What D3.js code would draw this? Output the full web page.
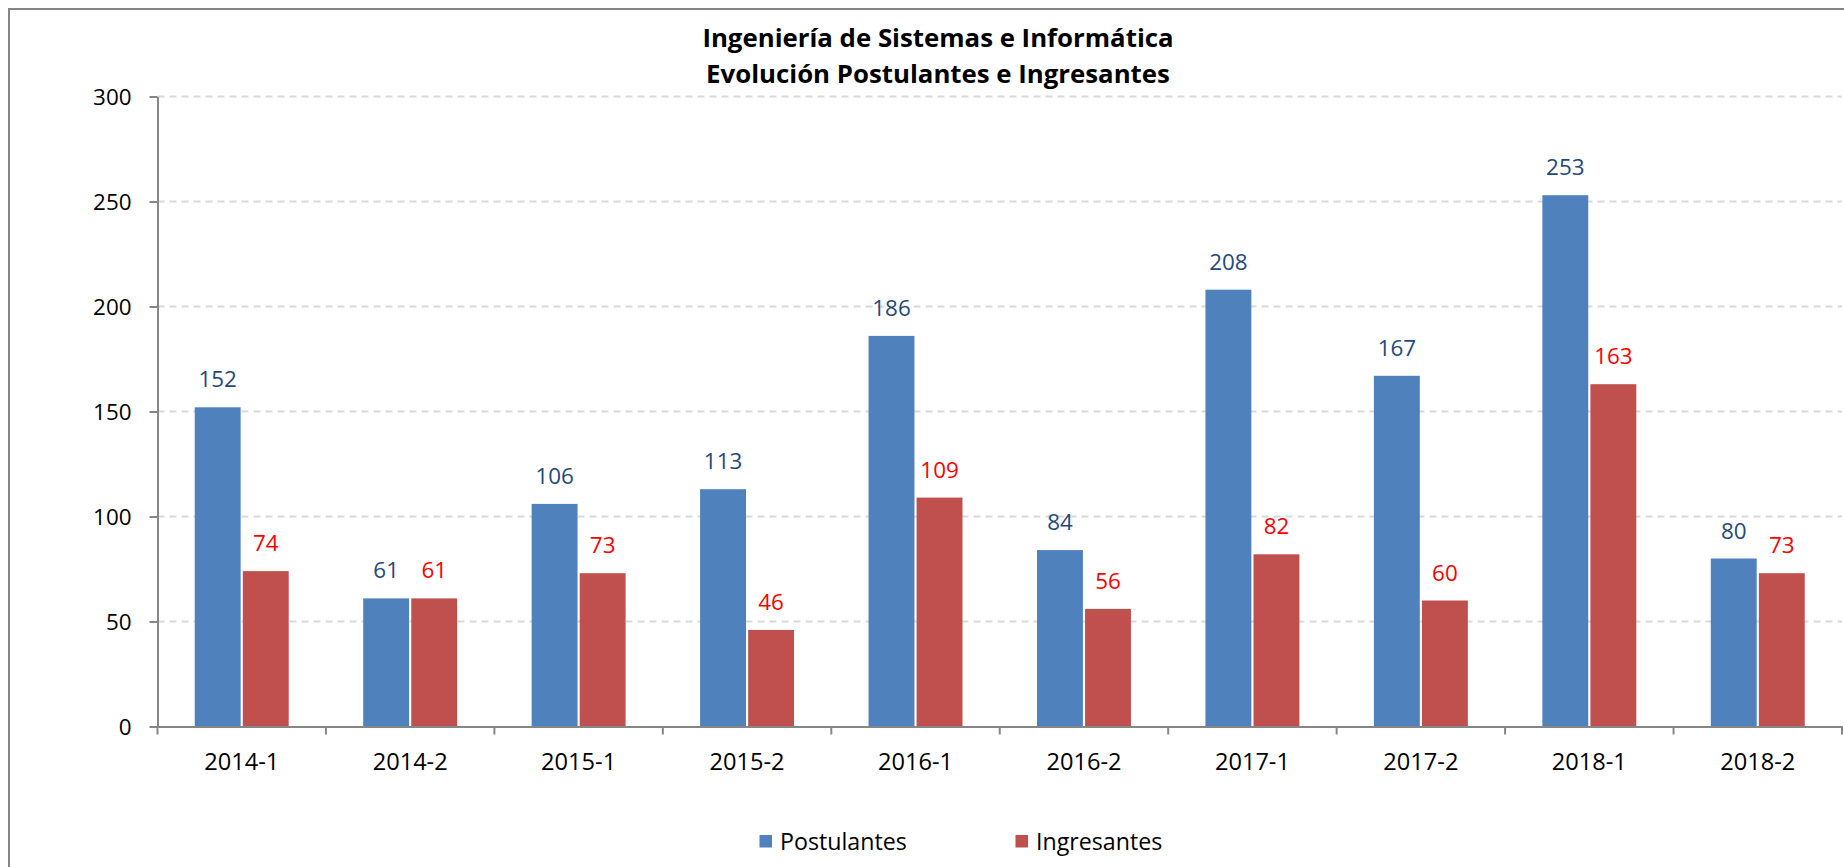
<!DOCTYPE html>
<html>
<head>
<meta charset="utf-8">
<script src="https://cdn.jsdelivr.net/npm/d3@7"></script>
<style>
  body { margin: 0; background: #fff; }
  svg { display: block; font-family: "Open Sans", sans-serif; }
</style>
</head>
<body>
<svg width="1844" height="867"></svg>
<script>
const titleLines = ['Ingeniería de Sistemas e Informática', 'Evolución Postulantes e Ingresantes'];
const periods = ['2014-1', '2014-2', '2015-1', '2015-2', '2016-1', '2016-2', '2017-1', '2017-2', '2018-1', '2018-2'];
const seriesNames = ['Postulantes', 'Ingresantes'];
const postulantes = [152, 61, 106, 113, 186, 84, 208, 167, 253, 80];
const ingresantes = [74, 61, 73, 46, 109, 56, 82, 60, 163, 73];
const yTicks = [0, 50, 100, 150, 200, 250, 300];

const barColors = { Postulantes: '#4f81bd', Ingresantes: '#c0504d' };
const labelColors = { Postulantes: '#1f497d', Ingresantes: '#ff0000' };

const svg = d3.select('svg');
const plotLeft = 157.5, plotRight = 1842, plotTop = 96.5, plotBottom = 726.5;

// chart frame (cut off at right/bottom like the original)
svg.append('rect')
    .attr('x', 9).attr('y', 9)
    .attr('width', 1900).attr('height', 900)
    .attr('fill', 'none')
    .attr('stroke', '#868686')
    .attr('stroke-width', 2);

const x0 = d3.scaleBand().domain(periods).range([plotLeft, plotRight]);
const pad = 37.25;
const x1 = d3.scaleBand().domain(seriesNames)
    .range([pad, x0.step() - pad])
    .paddingInner(0.045);
const y = d3.scaleLinear().domain([0, 300]).range([plotBottom, plotTop]);

// gridlines
svg.append('g')
    .selectAll('line')
    .data(yTicks.filter(d => d > 0))
    .enter()
    .append('line')
    .attr('x1', plotLeft).attr('x2', plotRight)
    .attr('y1', d => y(d)).attr('y2', d => y(d))
    .attr('stroke', '#d9d9d9')
    .attr('stroke-width', 2)
    .attr('stroke-dasharray', '7,5');

// bars
const rows = periods.map((p, i) => ({ period: p, Postulantes: postulantes[i], Ingresantes: ingresantes[i] }));

const groups = svg.append('g')
    .selectAll('g')
    .data(rows)
    .enter()
    .append('g')
    .attr('transform', d => `translate(${x0(d.period)},0)`);

const cells = groups.selectAll('g')
    .data(d => seriesNames.map(s => ({ series: s, value: d[s] })))
    .enter();

cells.append('rect')
    .attr('x', d => x1(d.series))
    .attr('width', x1.bandwidth())
    .attr('y', d => y(d.value))
    .attr('height', d => y(0) - y(d.value))
    .attr('fill', d => barColors[d.series]);

cells.append('text')
    .attr('x', d => x1(d.series) + x1.bandwidth() / 2)
    .attr('y', d => y(d.value) - 20)
    .attr('text-anchor', 'middle')
    .style('font-size', '22.4px')
    .style('fill', d => labelColors[d.series])
    .text(d => d.value);

// y axis
const yAxis = svg.append('g')
    .attr('transform', `translate(${plotLeft},0)`)
    .call(d3.axisLeft(y).tickValues(yTicks).tickSizeInner(8).tickSizeOuter(0).tickPadding(18));
yAxis.select('.domain').attr('stroke', '#868686').attr('stroke-width', 2);
yAxis.selectAll('.tick line').attr('stroke', '#868686').attr('stroke-width', 2);
yAxis.selectAll('.tick text')
    .style('font-size', '22.4px')
    .style('font-family', '"Open Sans", sans-serif')
    .attr('fill', '#000')
    .attr('dy', '0.36em');

// x axis
const xAxis = svg.append('g')
    .attr('transform', `translate(0,${plotBottom})`)
    .call(d3.axisBottom(x0).tickSize(0).tickPadding(0));
xAxis.select('.domain').attr('stroke', '#868686').attr('stroke-width', 2);
xAxis.selectAll('.tick text')
    .attr('y', 43.5)
    .attr('dy', null)
    .style('font-size', '23.6px')
    .style('font-family', '"Open Sans", sans-serif')
    .attr('fill', '#000');

xAxis.append('g')
    .selectAll('line')
    .data(periods.map(p => x0(p)).concat([x0(periods[periods.length - 1]) + x0.step()]))
    .enter()
    .append('line')
    .attr('x1', d => d).attr('x2', d => d)
    .attr('y1', 0).attr('y2', 8)
    .attr('stroke', '#868686')
    .attr('stroke-width', 2);

// title
svg.append('g')
    .selectAll('text')
    .data(titleLines)
    .enter()
    .append('text')
    .attr('x', 938)
    .attr('y', (d, i) => 46.7 + i * 36.6)
    .attr('text-anchor', 'middle')
    .style('font-weight', 'bold')
    .style('font-size', '25.8px')
    .text(d => d);

// legend
const legend = svg.append('g')
    .selectAll('g')
    .data(seriesNames)
    .enter()
    .append('g')
    .attr('transform', (d, i) => `translate(${759.5 + i * 256},835)`);

legend.append('rect')
    .attr('width', 12.5).attr('height', 12.5)
    .attr('fill', d => barColors[d]);

legend.append('text')
    .attr('x', 20.5)
    .attr('y', 14.5)
    .style('font-size', '23.2px')
    .text(d => d);
</script>
</body>
</html>
